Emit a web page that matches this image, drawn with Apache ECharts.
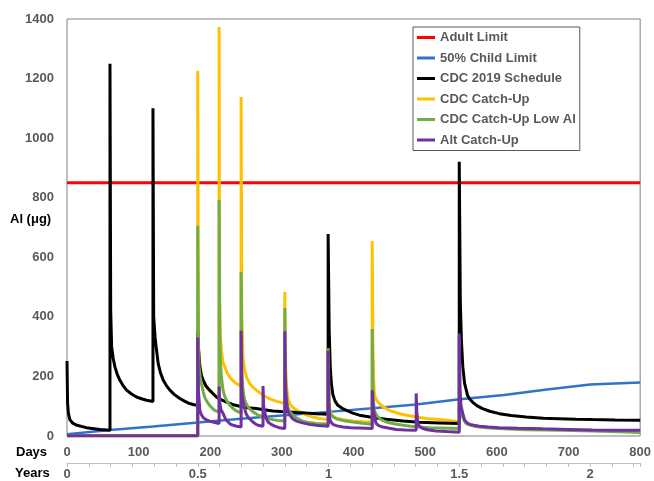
<!DOCTYPE html>
<html>
<head>
<meta charset="utf-8">
<script src="https://cdn.jsdelivr.net/npm/echarts@6/dist/echarts.min.js"></script>
<style>
  html, body { margin: 0; padding: 0; background: #fff; }
  #chart { width: 654px; height: 481px; }
</style>
</head>
<body>
<div id="chart"></div>
<script>
// Aluminium body burden (µg) by age in days, [day, µg] pairs per schedule.
const seriesNames = ['Adult Limit', '50% Child Limit', 'CDC 2019 Schedule', 'CDC Catch-Up', 'CDC Catch-Up Low Al', 'Alt Catch-Up'];
const yearLabels = ['0', '0.5', '1', '1.5', '2'];

const adultLimit = [[0, 850], [800, 850]];

const childLimit = [[0, 6], [60, 20], [120, 32], [183, 45], [243, 58], [304, 70], [365, 81], [426, 93], [487, 106],
  [548, 123], [610, 138], [670, 156], [730, 173], [800, 180]];

const cdc2019 = [[0, 252], [0.8, 110], [2, 75], [4, 55], [8, 43], [14, 36], [27, 28], [46, 22], [60, 19],
  [60, 1250], [61, 420], [62.3, 300], [64.5, 260], [66.9, 232], [70, 208], [73.9, 187], [78, 170], [83.2, 154],
  [90, 141], [97, 131], [104, 125], [111, 120], [120, 116],
  [120, 1100], [121, 400], [123, 330], [125, 288], [127.3, 243], [130.5, 212], [134.4, 187], [138.5, 170],
  [143.6, 154], [150, 139], [157.5, 126], [164, 117], [171, 109], [176, 106], [182.5, 102],
  [182.5, 350], [183.5, 290], [185.4, 232], [187.5, 205], [190, 187], [194, 168], [199, 154], [204, 142],
  [208.6, 131], [215, 122], [222.6, 114], [231, 106], [241, 100], [252, 95], [264, 92], [275, 88], [287.5, 84],
  [299, 82], [310.8, 81], [322, 79], [334, 77], [348, 75], [364.5, 73],
  [364.5, 678], [366, 350], [367.5, 230], [369, 176], [371, 140], [374, 118], [378, 103], [384, 93], [390, 86],
  [399, 77], [408, 70], [417, 66], [427, 62], [445.5, 56], [469, 50], [492, 46], [520, 44], [547.5, 42],
  [547.5, 921], [549, 450], [550.5, 320], [552.5, 232], [555, 176], [559, 137], [562, 124], [566, 114], [572, 102],
  [580, 92], [590, 83], [603.5, 75], [620, 69], [640.7, 64], [665, 60], [687, 58], [710, 56], [733.5, 55],
  [765, 54], [800, 53]];

const cdcCatchUp = [[0, 0], [182.5, 0],
  [182.5, 1226], [183.2, 420], [183.7, 300], [185.4, 242], [187.5, 204], [190, 186], [194, 167], [199, 153],
  [204, 141], [208, 132], [212.3, 125],
  [212.3, 1373], [213, 460], [214, 340], [215.5, 288], [217.5, 250], [220.4, 232], [223.5, 212], [227, 198],
  [231.5, 186], [236.5, 176], [243, 166],
  [243, 1138], [244, 420], [245.5, 270], [248, 221], [251, 195], [255, 176], [259.5, 164], [264, 154], [271, 142],
  [278, 131], [285, 123], [292, 117], [298, 113], [304, 109],
  [304, 484], [305, 240], [306.5, 165], [308.5, 125], [311, 108], [315, 96], [320, 88], [325, 81], [333, 72],
  [343, 64], [352, 59], [364.5, 55],
  [364.5, 300], [366, 110], [367.5, 80], [370, 70], [376, 60], [385, 55], [399, 50], [412, 48], [426, 47],
  [426, 655], [427, 300], [428, 190], [429, 143], [431, 125], [434, 114], [439, 102], [445.5, 92], [452, 84],
  [460, 78], [469, 72], [480, 67], [492, 62], [505, 58], [520, 55], [533, 52], [547.5, 48]];

const cdcLowAl = [[0, 0], [182.5, 0],
  [182.5, 706], [183.5, 300], [184.4, 232], [185.8, 200], [187.7, 176], [190, 150], [192, 131], [195, 117],
  [199, 103], [202, 95], [206, 86], [212.3, 80],
  [212.3, 793], [213.2, 340], [214.2, 250], [215.5, 198], [217.8, 154], [220, 134], [222.6, 120], [226, 107],
  [229.5, 98], [233, 90], [236.5, 84], [243, 77],
  [243, 551], [244, 230], [245, 170], [246.5, 140], [248, 122], [250, 109], [254, 93], [259.7, 81], [266, 71],
  [273.6, 64], [280, 59], [287.5, 55], [295, 52], [304, 50],
  [304, 430], [305, 190], [306.5, 130], [308, 98], [311, 82], [315, 70], [321, 60], [329, 50], [338, 45],
  [348, 42], [364.5, 40],
  [364.5, 295], [366, 100], [367.5, 75], [371, 64], [376, 58], [387, 51], [399, 47], [412, 43], [426, 39],
  [426, 359], [427, 160], [428, 110], [429, 86], [431, 74], [434, 64], [439, 54], [445.5, 47], [456, 41],
  [469, 36], [480, 33], [492, 30], [505, 28], [520, 27], [547.5, 25],
  [547.5, 330], [548.5, 120], [550, 80], [552, 64], [555, 50], [557, 42], [562, 37], [568, 33], [575.6, 30],
  [590, 27], [610, 24], [640.7, 21], [690, 19], [733.5, 17], [770, 14], [800, 12]];

const altCatchUp = [[0, 1], [182.5, 1],
  [182.5, 331], [183.5, 150], [185.4, 86], [187.5, 72], [190, 62], [194, 55], [199, 50], [205, 46], [212.3, 42],
  [212.3, 166], [213.3, 110], [215, 88], [218, 75], [221, 58], [225, 47], [228, 40], [232, 36], [237, 33], [243, 30],
  [243, 353], [244, 160], [245, 125], [246.6, 109], [248.5, 88], [250, 75], [253, 62], [257, 53], [260, 46],
  [264, 39], [268, 35], [273.6, 33],
  [273.6, 168], [274.5, 100], [276, 80], [278, 60], [280.6, 47], [285, 39], [290, 33], [296, 28], [304, 25],
  [304, 352], [305, 160], [306.5, 110], [308, 86], [311, 70], [315, 58], [320, 50], [329, 44], [338, 39],
  [348, 36], [356, 34], [364.5, 33],
  [364.5, 286], [365.3, 120], [366.6, 58], [368.5, 47], [371, 39], [377, 34], [385, 30], [396, 28], [408, 27], [426, 25],
  [426, 154], [427, 110], [428, 86], [430, 55], [431.6, 42], [435, 35], [441, 30], [450, 26], [459.5, 22],
  [472, 20], [487.4, 19],
  [487.4, 143], [488.3, 80], [489.7, 42], [492, 33], [496.6, 25], [503, 21], [515, 17], [530, 15], [547.5, 13],
  [547.5, 344], [548.5, 160], [550, 100], [552.5, 75], [555, 53], [558, 45], [562, 39], [568, 36], [575.6, 33],
  [588, 30], [603.5, 28], [630, 26], [664, 24], [700, 22], [733.5, 20], [770, 19], [800, 19]];

const FONT = '"Liberation Sans", Arial, Helvetica, sans-serif';
const GREY_TEXT = '#595959';

function line(name, data, color, width, z) {
  return {
    name: name, type: 'line', data: data, z: z,
    showSymbol: false, symbol: 'none', smooth: false,
    lineStyle: { color: color, width: width },
    itemStyle: { color: color },
    emphasis: { disabled: true }
  };
}

const chart = echarts.init(document.getElementById('chart'), null, { renderer: 'canvas' });

chart.setOption({
  animation: false,
  backgroundColor: '#fff',
  textStyle: { fontFamily: FONT },
  grid: { left: 67, right: 12, top: 19, bottom: 45, show: true, borderColor: '#808080', borderWidth: 1 },
  legend: {
    data: seriesNames,
    orient: 'vertical',
    left: 413, top: 27,
    padding: [2.5, 4, 2.5, 4],
    itemGap: 4.5,
    itemWidth: 18, itemHeight: 3,
    icon: 'rect',
    backgroundColor: '#fff',
    borderColor: '#595959', borderWidth: 1,
    selectedMode: false,
    textStyle: { color: GREY_TEXT, fontWeight: 'bold', fontSize: 13, lineHeight: 16, fontFamily: FONT }
  },
  xAxis: [
    {
      type: 'value', min: 0, max: 800, interval: 100,
      axisLine: { show: false }, axisTick: { show: false }, splitLine: { show: false },
      axisLabel: { margin: 10, color: GREY_TEXT, fontWeight: 'bold', fontSize: 13, fontFamily: FONT,
        formatter: function (v) { return String(v); } }
    },
    {
      // age in years, one tick per month, drawn in day units
      type: 'value', min: 0, max: 800, interval: 365 / 12, position: 'bottom', offset: 27,
      axisLine: { show: true, lineStyle: { color: '#bfbfbf', width: 1 } },
      axisTick: { show: true, length: 4, lineStyle: { color: '#bfbfbf' } },
      splitLine: { show: false },
      axisLabel: {
        margin: 5, color: GREY_TEXT, fontWeight: 'bold', fontSize: 13, fontFamily: FONT,
        formatter: function (v) {
          const half = Math.round(v / 182.5);
          if (Math.abs(v - half * 182.5) < 0.01 && half < yearLabels.length) return yearLabels[half];
          return '';
        }
      }
    }
  ],
  yAxis: {
    type: 'value', min: 0, max: 1400, interval: 200,
    axisLine: { show: false }, axisTick: { show: false }, splitLine: { show: false },
    axisLabel: { margin: 13, color: GREY_TEXT, fontWeight: 'bold', fontSize: 13, fontFamily: FONT,
      formatter: function (v) { return String(v); } }
  },
  graphic: [
    { type: 'text', left: 10, top: 213, style: { text: 'Al (μg)', fill: '#000', font: 'bold 13px ' + FONT } },
    { type: 'text', left: 16, top: 446, style: { text: 'Days', fill: '#000', font: 'bold 13px ' + FONT } },
    { type: 'text', left: 15, top: 467, style: { text: 'Years', fill: '#000', font: 'bold 13px ' + FONT } }
  ],
  series: [
    line('Adult Limit', adultLimit, '#ff0000', 3, 1),
    line('50% Child Limit', childLimit, '#2e74c8', 2.5, 2),
    line('CDC Catch-Up', cdcCatchUp, '#ffc000', 3, 3),
    line('CDC 2019 Schedule', cdc2019, '#000000', 3, 4),
    line('CDC Catch-Up Low Al', cdcLowAl, '#70ad47', 3, 5),
    line('Alt Catch-Up', altCatchUp, '#7030a0', 3, 6)
  ]
});
</script>
</body>
</html>
